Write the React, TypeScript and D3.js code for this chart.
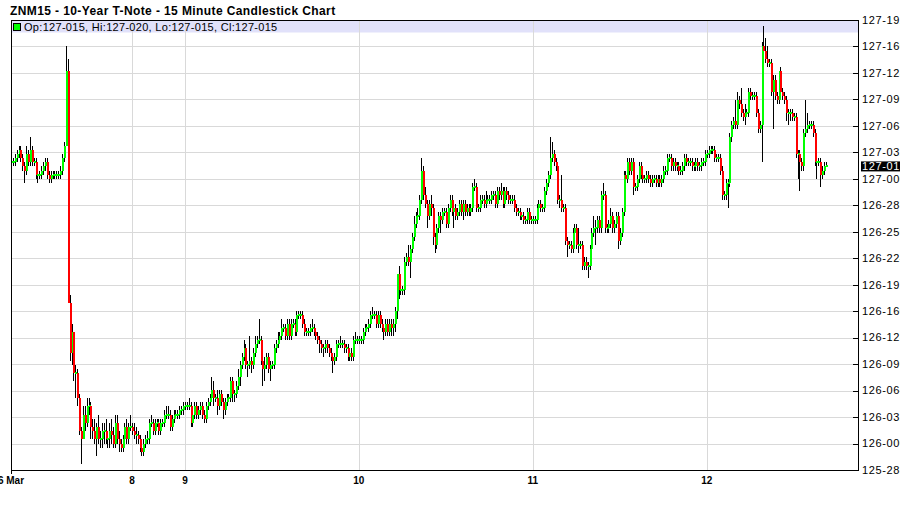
import React from 'react';
import * as d3 from 'd3';

// ---------- text ----------
const TITLE = 'ZNM15 - 10-Year T-Note - 15 Minute Candlestick Chart';
const LEGEND_TEXT = 'Op:127-015, Hi:127-020, Lo:127-015, Cl:127-015';

// ---------- data (prices in half-32nds above 126-000) ----------
const FIRST_OPEN = 68;

const CLOSE_MAR06 = [
  68, 68, 69, 70, 71, 69, 67, 66, 70, 68,
  71, 68, 68, 65, 65, 65, 66, 67, 68, 65,
  64, 65, 65, 65, 65, 65, 66, 69, 72,
  90, 34,
  22, 27, 17, 17, 11, 3, 1, 7, 5, 9,
  9, 4, 3, 1, 4, 1, 1, 3, 3, 1,
  1, 3, 2, 0, 5, 1, 0, -1, 1, 4,
  1, 4, 4,
];
const UP_MAR06 = [
  1, 1, 1, 1, 1, 1, 1, 1, 2, 1,
  3, 1, 1, 1, 0, 1, 1, 1, 1, 1,
  1, 1, 1, 1, 1, 1, 1, 1, 1,
  6, 3,
  2, 2, 0, 2, 1, 1, 1, 2, 2, 2,
  2, 1, 2, 3, 1, 3, 2, 2, 2, 3,
  2, 2, 3, 2, 2, 2, 2, 1, 1, 1,
  2, 1, 3,
];
const DOWN_MAR06 = [
  1, 1, 1, 1, 1, 1, 1, 3, 1, 1,
  1, 1, 1, 1, 2, 1, 1, 1, 1, 1,
  1, 1, 1, 1, 1, 1, 1, 1, 1,
  0, 0,
  2, 3, 2, 6, 2, 1, 6, 0, 2, 1,
  2, 3, 2, 1, 4, 1, 2, 2, 3, 1,
  2, 2, 2, 1, 1, 1, 2, 1, 1, 1,
  1, 1, 1,
];

const CLOSE_MAR08 = [
  3, 2, 2, 1, -1, -2, 0, 1, 1, 5,
  5, 3, 5, 5, 3, 5, 5, 7, 7, 7,
  4, 6, 7, 7, 7, 8, 8, 9,
];
const UP_MAR08 = [
  1, 2, 2, 1, 1, 1, 1, 1, 2, 1,
  2, 1, 1, 1, 1, 1, 1, 1, 2, 2,
  1, 1, 1, 1, 1, 1, 1, 1,
];
const DOWN_MAR08 = [
  1, 1, 2, 1, 1, 1, 1, 1, 1, 1,
  1, 1, 1, 1, 1, 1, 1, 1, 1, 1,
  1, 1, 1, 1, 1, 1, 1, 1,
];

const CLOSE_MAR09 = [
  9, 9, 9, 5, 7, 9, 7, 8, 9, 7,
  6, 9, 10, 11, 13, 11, 11, 9, 12, 10,
  8, 10, 11, 11, 15, 12, 12, 14, 16, 19,
  21, 23, 19, 19, 20, 19, 22, 24, 25, 25,
  20, 18, 19, 21, 18, 19, 19, 23, 24, 25,
  26, 28, 28, 26, 29, 26, 29, 29, 27, 31,
  31, 31, 29, 27, 27, 27, 28, 28, 27, 26,
  25, 24, 23, 23, 24, 23, 22, 21, 20, 21,
  24, 24, 24, 24, 23, 23, 21, 22, 21, 25,
  25, 25,
];
const UP_MAR09 = [
  1, 1, 2, 1, 1, 1, 1, 1, 1, 1,
  1, 1, 1, 1, 3, 2, 1, 2, 1, 1,
  1, 1, 1, 1, 1, 1, 1, 1, 2, 1,
  1, 2, 1, 1, 6, 1, 1, 2, 1, 5,
  1, 1, 2, 1, 1, 1, 1, 1, 1, 2,
  1, 2, 1, 1, 1, 1, 1, 1, 1, 1,
  1, 1, 1, 1, 1, 1, 1, 2, 1, 1,
  1, 1, 1, 1, 1, 1, 1, 1, 1, 1,
  1, 1, 2, 1, 1, 1, 1, 1, 1, 1,
  2, 1,
];
const DOWN_MAR09 = [
  1, 1, 1, 1, 1, 1, 1, 1, 1, 1,
  1, 1, 1, 1, 1, 2, 1, 2, 1, 1,
  2, 1, 1, 1, 1, 2, 2, 1, 1, 2,
  1, 1, 1, 3, 1, 2, 1, 1, 1, 1,
  1, 4, 3, 1, 1, 3, 1, 1, 1, 1,
  1, 1, 1, 1, 1, 1, 1, 1, 1, 1,
  1, 1, 1, 1, 1, 1, 1, 1, 1, 1,
  1, 2, 1, 2, 1, 1, 1, 1, 3, 1,
  1, 1, 1, 1, 1, 1, 1, 1, 1, 1,
  1, 1,
];

const CLOSE_MAR10 = [
  25, 25, 27, 28, 28, 29, 31, 31, 31, 29,
  31, 29, 28, 27, 29, 27, 29, 28, 29, 32,
  41, 37, 37, 37, 44, 45, 44, 47, 50, 53,
  55, 55, 59, 66, 60, 58, 55, 58, 57, 50,
  48, 52, 55, 54, 56, 56, 53, 57, 59, 56,
  57, 55, 56, 58, 56, 58, 56, 57, 56, 57,
  62, 62, 57, 57, 59, 59, 58, 59, 59, 59,
  60, 60, 58, 61, 60, 61, 58, 61, 60, 59,
  59, 59, 57, 56, 56, 55, 55, 54, 54, 56,
  54, 54,
];
const UP_MAR10 = [
  1, 1, 1, 1, 1, 1, 1, 2, 1, 1,
  1, 1, 1, 1, 1, 1, 1, 1, 1, 1,
  0, 2, 1, 1, 1, 1, 3, 1, 1, 2,
  1, 2, 1, 3, 1, 2, 1, 1, 2, 1,
  1, 1, 1, 1, 1, 1, 1, 1, 1, 1,
  1, 1, 1, 1, 1, 1, 1, 1, 1, 1,
  1, 2, 1, 1, 1, 1, 1, 2, 1, 1,
  1, 1, 1, 1, 1, 2, 1, 1, 1, 1,
  1, 1, 1, 1, 1, 1, 1, 1, 1, 1,
  1, 1,
];
const DOWN_MAR10 = [
  1, 1, 1, 1, 1, 1, 1, 1, 1, 1,
  1, 1, 1, 2, 1, 1, 1, 2, 2, 2,
  2, 2, 1, 1, 1, 1, 1, 4, 1, 1,
  1, 1, 1, 1, 1, 1, 3, 1, 2, 2,
  2, 1, 1, 3, 1, 1, 1, 1, 1, 1,
  4, 1, 1, 1, 1, 2, 1, 1, 1, 1,
  1, 1, 1, 1, 1, 1, 1, 1, 1, 1,
  1, 1, 1, 1, 1, 1, 1, 1, 1, 1,
  1, 1, 1, 1, 1, 1, 1, 1, 1, 1,
  1, 1,
];

const CLOSE_MAR11 = [
  54, 54, 57, 58, 57, 57, 61, 63, 65, 69,
  70, 68, 67, 59, 59, 57, 57, 49, 48, 48,
  47, 51, 52, 48, 48, 48, 43, 44, 43, 43,
  47, 51, 52, 52, 54, 52, 60, 60, 52, 52,
  53, 55, 52, 53, 55, 49, 51, 56, 65, 64,
  68, 66, 68, 62, 62, 64, 67, 65, 64, 64,
  65, 64, 63, 64, 64, 63, 64, 63, 64, 66,
  66, 69, 69, 67, 68, 67, 67, 66, 66, 67,
  69, 68, 68, 68, 67, 67, 68, 67, 67, 68,
  68, 70,
];
const UP_MAR11 = [
  1, 1, 1, 1, 1, 1, 1, 1, 1, 5,
  3, 1, 1, 1, 1, 6, 1, 1, 1, 1,
  1, 1, 1, 1, 4, 1, 1, 1, 1, 1,
  1, 1, 3, 2, 1, 1, 1, 3, 1, 1,
  1, 2, 1, 1, 1, 1, 1, 1, 1, 1,
  1, 1, 1, 1, 1, 1, 1, 1, 1, 1,
  1, 1, 1, 1, 1, 1, 1, 1, 1, 1,
  1, 1, 1, 1, 1, 1, 1, 1, 1, 1,
  1, 1, 1, 1, 1, 1, 1, 1, 1, 1,
  1, 1,
];
const DOWN_MAR11 = [
  1, 1, 1, 1, 1, 1, 1, 1, 1, 1,
  1, 1, 1, 1, 2, 1, 1, 1, 3, 1,
  1, 1, 1, 1, 2, 1, 1, 1, 1, 3,
  1, 1, 1, 4, 1, 1, 1, 1, 1, 1,
  1, 1, 1, 1, 1, 2, 1, 1, 1, 1,
  1, 1, 1, 2, 1, 1, 1, 1, 1, 1,
  1, 1, 1, 1, 1, 1, 1, 1, 1, 1,
  1, 1, 1, 1, 1, 1, 1, 1, 1, 1,
  1, 1, 1, 1, 1, 1, 1, 1, 1, 1,
  1, 1,
];

const CLOSE_MAR12 = [
  70, 71, 71, 71, 69, 69, 69, 66, 60, 60,
  63, 63, 74, 77, 78, 77, 83, 82, 80, 79,
  80, 80, 85, 84, 84, 84, 80, 76, 77, 96,
  95, 93, 92, 92, 85, 88, 84, 83, 90, 85,
  84, 83, 80, 80, 80, 79, 79, 70, 70, 68,
  67, 75, 76, 77, 77, 77, 75, 68, 68, 68,
  65, 66, 67, 67,
];
const UP_MAR12 = [
  1, 1, 1, 1, 1, 1, 1, 1, 1, 1,
  1, 1, 1, 1, 1, 5, 2, 1, 4, 1,
  2, 1, 1, 1, 1, 1, 1, 1, 1, 1,
  5, 3, 3, 1, 1, 1, 1, 1, 0, 1,
  1, 1, 1, 1, 1, 1, 1, 1, 1, 1,
  1, 1, 7, 3, 1, 1, 1, 1, 1, 1,
  1, 1, 1, 1,
];
const DOWN_MAR12 = [
  1, 1, 1, 1, 1, 1, 1, 1, 1, 1,
  1, 6, 1, 1, 1, 1, 1, 1, 1, 1,
  2, 1, 1, 1, 1, 1, 1, 1, 1, 9,
  1, 1, 1, 1, 1, 9, 1, 1, 1, 1,
  1, 1, 2, 3, 2, 1, 1, 1, 6, 7,
  1, 1, 1, 1, 1, 1, 1, 1, 4, 1,
  3, 1, 1, 0,
];

// ---------- axes ----------
const SLOTS = 448;
const DAY_START_INDEX = [0, 64, 92, 184, 276, 368];
const DAY_LABELS = ['6 Mar', '8', '9', '10', '11', '12'];
const PRICE_TICKS = [127.6, 127.5, 127.4, 127.3, 127.2, 127.1, 127.0, 126.9, 126.8, 126.7, 126.6, 126.5, 126.4, 126.3, 126.2, 126.1, 126.0, 125.9];
const PRICE_LABELS = ['127-192', '127-160', '127-128', '127-090', '127-064', '127-032', '127-000', '126-288', '126-256', '126-224', '126-192', '126-160', '126-128', '126-090', '126-064', '126-032', '126-000', '125-288'];
const LAST_PRICE = 127 + 1.5 / 32;
const LAST_LABEL = '127-015';

const FONT = '"Liberation Sans", Arial, Helvetica, sans-serif';
const GREEN = '#00ff00';
const RED = '#ff0000';

export default function App() {
  const W = 900;
  const H = 511;
  const left = 11;
  const right = 858;
  const top = 20;
  const bottom = 470;

  const x = d3.scaleLinear().domain([0, SLOTS]).range([left, right]);
  const y = d3.scaleLinear().domain([125.9, 127.6]).range([bottom, top]);
  const toPrice = (u: number) => 126 + u / 64;

  const closes = [...CLOSE_MAR06, ...CLOSE_MAR08, ...CLOSE_MAR09, ...CLOSE_MAR10, ...CLOSE_MAR11, ...CLOSE_MAR12];
  const ups = [...UP_MAR06, ...UP_MAR08, ...UP_MAR09, ...UP_MAR10, ...UP_MAR11, ...UP_MAR12];
  const downs = [...DOWN_MAR06, ...DOWN_MAR08, ...DOWN_MAR09, ...DOWN_MAR10, ...DOWN_MAR11, ...DOWN_MAR12];

  const bars = closes.map((c, i) => {
    const o = i === 0 ? FIRST_OPEN : closes[i - 1];
    const hi = Math.max(o, c) + (ups[i] ?? 1);
    const lo = Math.min(o, c) - (downs[i] ?? 1);
    return { i, o, c, hi, lo };
  });

  return (
    <svg
      width={W}
      height={H}
      style={{ position: 'fixed', left: 0, top: 0, background: '#fff' }}
      fontFamily={FONT}
    >
      <rect x={0} y={0} width={W} height={H} fill="#fff" />
      {/* title */}
      <text x={10} y={15} fontSize={12} letterSpacing={0.4} fontWeight="bold" fill="#000">{TITLE}</text>

      {/* legend band */}
      <rect x={left} y={top} width={right - left} height={12.5} fill="#e1e1fa" />

      {/* grid */}
      <g shapeRendering="crispEdges">
        {PRICE_TICKS.slice(1, -1).map((p) => (
          <line key={p} x1={left} x2={right} y1={Math.round(y(p)) + 0.5} y2={Math.round(y(p)) + 0.5} stroke="#d9d9d9" />
        ))}
        {DAY_START_INDEX.slice(1).map((d) => (
          <line key={d} x1={Math.round(x(d)) + 0.5} x2={Math.round(x(d)) + 0.5} y1={top} y2={bottom} stroke="#d9d9d9" />
        ))}
      </g>

      {/* legend content */}
      <rect x={13.5} y={23.5} width={7} height={7} fill={GREEN} stroke="#000" strokeWidth={1} shapeRendering="crispEdges" />
      <text x={24} y={30.5} fontSize={11} letterSpacing={0.3} fill="#000">{LEGEND_TEXT}</text>

      {/* candles */}
      <g shapeRendering="crispEdges">
        {bars.map((b) => {
          const cx = Math.round(x(b.i));
          return (
            <line
              key={'w' + b.i}
              x1={cx + 0.5}
              x2={cx + 0.5}
              y1={y(toPrice(b.hi))}
              y2={y(toPrice(b.lo))}
              stroke="#000"
              strokeWidth={1}
            />
          );
        })}
        {bars.map((b) => {
          const cx = Math.round(x(b.i));
          const yTop = y(toPrice(Math.max(b.o, b.c)));
          const yBot = y(toPrice(Math.min(b.o, b.c)));
          const h = Math.max(yBot - yTop, 2);
          const yy = yBot - yTop < 2 ? (yTop + yBot) / 2 - 1 : yTop;
          return (
            <rect
              key={'b' + b.i}
              x={cx}
              y={yy}
              width={2}
              height={h}
              fill={b.c >= b.o ? GREEN : RED}
            />
          );
        })}
      </g>

      {/* frame */}
      <g shapeRendering="crispEdges" stroke="#000" strokeWidth={1}>
        <line x1={left + 0.5} x2={left + 0.5} y1={top} y2={bottom + 4} />
        <line x1={left} x2={right + 1} y1={bottom + 0.5} y2={bottom + 0.5} />
        <line x1={right + 0.5} x2={right + 0.5} y1={top} y2={bottom + 1} />
        <line x1={left} x2={right + 1} y1={top + 0.5} y2={top + 0.5} />
        {PRICE_TICKS.map((p) => (
          <line key={p} x1={right - 5} x2={right} y1={Math.round(y(p)) + 0.5} y2={Math.round(y(p)) + 0.5} />
        ))}
      </g>

      {/* right axis labels */}
      {PRICE_TICKS.map((p, k) => (
        <text key={p} x={862} y={y(p)} dy="0.35em" fontSize={11} letterSpacing={0.6} fill="#000">{PRICE_LABELS[k]}</text>
      ))}

      {/* last price marker */}
      <rect x={861} y={y(LAST_PRICE) - 5} width={40} height={10} fill="#000" />
      <text x={862} y={y(LAST_PRICE)} dy="0.35em" fontSize={11} letterSpacing={0.6} fill="#fff">{LAST_LABEL}</text>

      {/* day labels */}
      {DAY_START_INDEX.map((d, k) => (
        <text key={d} x={x(d)} y={484} textAnchor="middle" fontSize={10} fontWeight="bold" fill="#000">{DAY_LABELS[k]}</text>
      ))}
    </svg>
  );
}
